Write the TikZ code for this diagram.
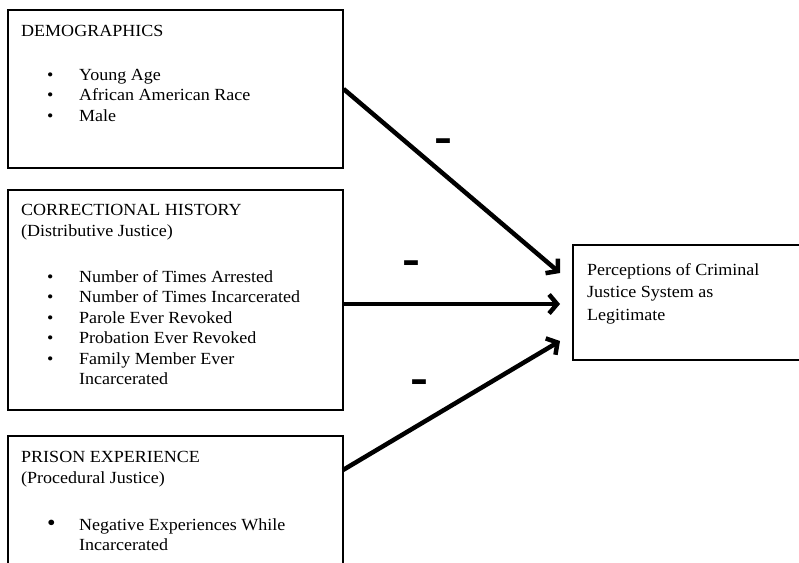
\documentclass[tikz,border=0pt]{standalone}
\usepackage{fontspec}
\setmainfont{Liberation Serif}[FakeStretch=1.06]
\newfontfamily\signfont{Liberation Sans}
\usetikzlibrary{arrows.meta}

\newcommand{\bitem}[2][1]{\hspace*{26pt}\makebox[32pt][l]{\scalebox{#1}{\textbullet}}#2}
\newcommand{\bcont}[1]{\hspace*{58pt}#1}

\begin{document}
\begin{tikzpicture}[x=1pt,y=-1pt]

    \tikzset{
      boxframe/.style={
        draw,
        line width=1.2pt,
        inner sep=0pt,
      },
      boxtext/.style={
        anchor=base west,
        inner sep=0pt,
        align=left,
        font=\fontsize{17}{20.5}\selectfont,
      },
      pathway/.style={
        line width=4.5pt,
        -{Straight Barb[length=8pt,width=19pt]},
      },
      sign/.style={
        inner sep=0pt,
        font=\signfont\bfseries\fontsize{40}{40}\selectfont,
      },
    }
    \useasboundingbox (0,0) rectangle (799,562);
    \clip (0,0) rectangle (799,562);
    % the four boxes
    \node[boxframe, minimum width=335pt, minimum height=158pt] (demo) at (175.5,89) {};
    \node[boxframe, minimum width=335pt, minimum height=220pt] (history) at (175.5,300) {};
    \node[boxframe, minimum width=335pt, minimum height=170pt] (prison) at (175.5,521) {};
    \node[boxframe, minimum width=260pt, minimum height=115pt] (legit) at (703,302.5) {};
    % texts (anchored at the baseline of their last line)
	\node[boxtext] (demohead) at (21,36) {DEMOGRAPHICS};
	\node[boxtext] (demoitems) at (21,121) {\bitem{Young Age}\\ \bitem{African American Race}\\ \bitem{Male}};
	\node[boxtext] (historyhead) at (21,236) {CORRECTIONAL HISTORY\\ (Distributive Justice)};
	\node[boxtext] (historyitems) at (21,384.5) {\bitem{Number of Times Arrested}\\ \bitem{Number of Times Incarcerated}\\ \bitem{Parole Ever Revoked}\\ \bitem{Probation Ever Revoked}\\ \bitem{Family Member Ever}\\ \bcont{Incarcerated}};
	\node[boxtext] (prisonhead) at (21,483) {PRISON EXPERIENCE\\ (Procedural Justice)};
	\node[boxtext] (prisonitems) at (21,550.5) {\bitem[1.35]{Negative Experiences While}\\ \bcont{Incarcerated}};
	\node[boxtext, font=\fontsize{17}{22.7}\selectfont] (legittext) at (587,320.5) {Perceptions of Criminal\\ Justice System as\\ Legitimate};
    % arrows into the outcome box
    \coordinate (prisonout) at (343,470);
    \coordinate (tipA) at (560,273);
    \coordinate (tipB) at (560,304);
    \coordinate (tipC) at (560,341);
	\draw[pathway] (demo.east) -- (tipA);
	\draw[pathway] ([yshift=-4pt]history.east) -- (tipB);
	\draw[pathway] (prisonout) -- (tipC);
	\node[sign] (signA) at (443,145) {\scalebox{1.35}[1]{-}};
	\node[sign] (signB) at (411,267) {\scalebox{1.35}[1]{-}};
	\node[sign] (signC) at (419,386) {\scalebox{1.35}[1]{-}};

\end{tikzpicture}
\end{document}
